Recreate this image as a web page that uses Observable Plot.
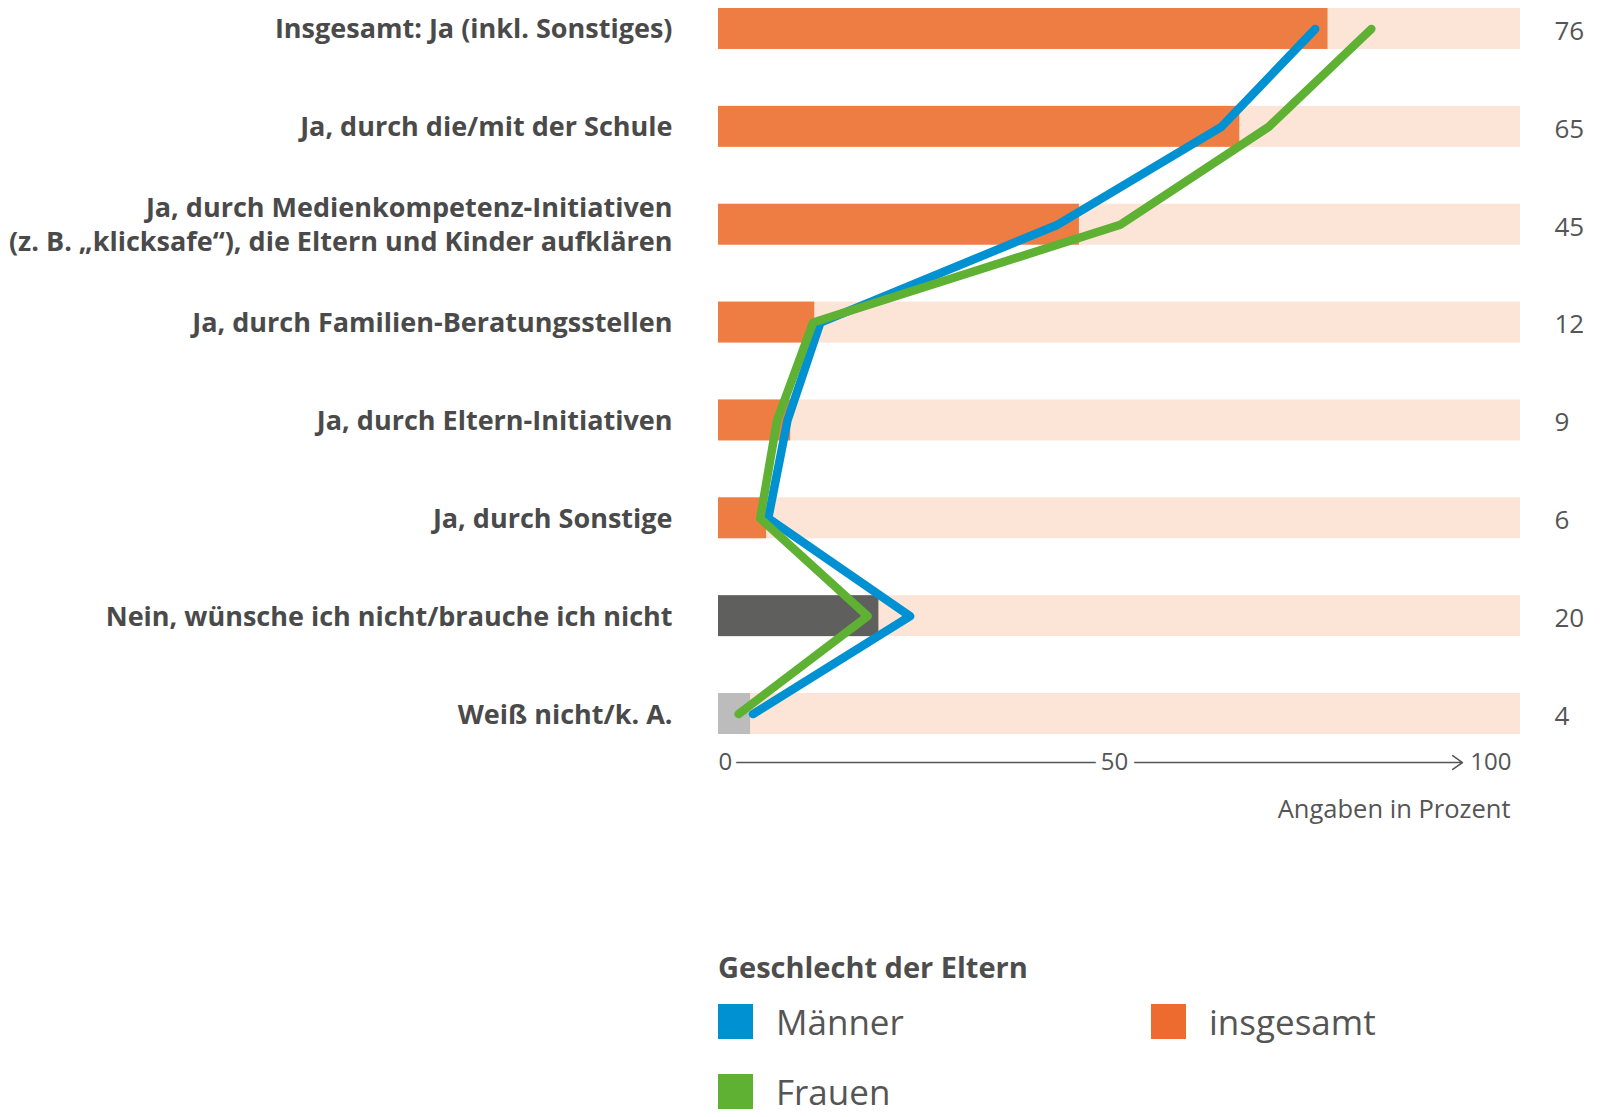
<!DOCTYPE html>
<html lang="de">
<head>
<meta charset="utf-8">
<script src="https://cdn.jsdelivr.net/npm/d3@7"></script>
<script src="https://cdn.jsdelivr.net/npm/@observablehq/plot@0.6"></script>
<style>
  html, body { margin: 0; padding: 0; background: #fff; }
  body { width: 1602px; height: 1117px; overflow: hidden; font-family: "Open Sans", sans-serif; }
  #chart svg { display: block; }
  .legend { margin-left: 718px; margin-top: 120px; color: #555; }
  .legend-title { font-size: 29px; font-weight: 700; color: #4d4d4d; line-height: 34px; }
  .legend-grid { display: grid; grid-template-columns: 433px auto; row-gap: 35px; margin-top: 20px; }
  .legend-item { display: flex; align-items: center; height: 35px; }
  .legend-item .sw { width: 35px; height: 35px; margin-right: 23px; flex: none; }
  .legend-item span { font-size: 35px; line-height: 0.85; color: #555; }
</style>
</head>
<body>
<div id="chart"></div>
<div class="legend" id="legend"></div>
<script>
// ---- Data ----
const categories = [
  "Insgesamt: Ja (inkl. Sonstiges)",
  "Ja, durch die/mit der Schule",
  "Ja, durch Medienkompetenz-Initiativen\n(z. B. „klicksafe“), die Eltern und Kinder aufklären",
  "Ja, durch Familien-Beratungsstellen",
  "Ja, durch Eltern-Initiativen",
  "Ja, durch Sonstige",
  "Nein, wünsche ich nicht/brauche ich nicht",
  "Weiß nicht/k. A."
];
const insgesamt = [76, 65, 45, 12, 9, 6, 20, 4];
const maenner = [74.4, 62.7, 42.3, 12.7, 8.6, 6.2, 23.9, 4.3];
const frauen = [81.4, 68.6, 50.1, 11.8, 7.3, 5.2, 18.6, 2.5];
const answerGroup = ["ja", "ja", "ja", "ja", "ja", "ja", "nein", "weissnicht"];
const seriesNames = ["Männer", "Frauen"];
const axisTicks = [0, 50, 100];
const xDomain = [0, 100];
const axisLabel = "Angaben in Prozent";
const legendTitle = "Geschlecht der Eltern";
const legendItems = ["Männer", "insgesamt", "Frauen"];

// ---- Derived tables ----
const rows = categories.map((c, i) => ({category: c, total: insgesamt[i], group: answerGroup[i]}));
const lineData = [
  ...categories.map((c, i) => ({category: c, value: maenner[i], series: seriesNames[0]})),
  ...categories.map((c, i) => ({category: c, value: frauen[i], series: seriesNames[1]}))
];

const barColors = {ja: "#EE7D43", nein: "#5F5F5D", weissnicht: "#BCBCBC"};
const lineColors = {"Männer": "#0091D2", "Frauen": "#5EB132"};
const legendColors = {"Männer": "#0091D2", "Frauen": "#5EB132", "insgesamt": "#EE6B2F"};
const textColor = "#4a4a4a";

const lastCat = categories[categories.length - 1];
const axisDy = 48.5;

const chart = Plot.plot({
  width: 1602,
  height: 830,
  marginLeft: 718,
  marginRight: 82,
  marginTop: 8,
  marginBottom: 96,
  style: {fontFamily: "Open Sans", background: "#fff", overflow: "visible"},
  x: {domain: xDomain, axis: null},
  y: {domain: categories, axis: null, paddingInner: 0.5816, paddingOuter: 0, align: 0.5, round: false},
  marks: [
    // background bars (100 %)
    Plot.barX(rows, {y: "category", x1: xDomain[0], x2: xDomain[1], fill: "#FCE4D6"}),
    // total bars
    Plot.barX(rows, {y: "category", x: "total", fill: d => barColors[d.group]}),
    // lines (men first, women on top)
    ...seriesNames.map(s => Plot.line(lineData.filter(d => d.series === s), {
      x: "value", y: "category", stroke: lineColors[s], strokeWidth: 8.5,
      strokeLinecap: "round", strokeLinejoin: "round"
    })),
    // category labels
    Plot.text(rows, {
      y: "category", text: "category", frameAnchor: "left", textAnchor: "end", dx: -46, dy: -1.5,
      fontSize: 27, fontWeight: 700, fill: textColor, lineHeight: 1.27
    }),
    // value labels
    Plot.text(rows, {
      y: "category", text: d => String(d.total), frameAnchor: "right", textAnchor: "start", dx: 34, dy: 2.5,
      fontSize: 26, fill: "#555"
    }),
    // axis arrow
    Plot.arrow([lastCat], {
      x1: xDomain[0], x2: xDomain[1], y1: d => d, y2: d => d, dy: axisDy,
      insetEnd: 58, headLength: 12, headAngle: 70, bend: false,
      stroke: "#555", strokeWidth: 1.5
    }),
    // axis tick labels (white halo interrupts the line)
    Plot.text(axisTicks.slice(0, 1), {
      x: d => d, y: () => lastCat, dy: axisDy, text: d => String(d), textAnchor: "start", dx: 0,
      fontSize: 24, fill: "#555", stroke: "#fff", strokeWidth: 10
    }),
    Plot.text(axisTicks.slice(1, 2), {
      x: d => d, y: () => lastCat, dy: axisDy, text: d => String(d), textAnchor: "middle", dx: -5,
      fontSize: 24, fill: "#555", stroke: "#fff", strokeWidth: 14
    }),
    Plot.text(axisTicks.slice(2, 3), {
      x: d => d, y: () => lastCat, dy: axisDy, text: d => String(d), textAnchor: "end", dx: -9,
      fontSize: 24, fill: "#555"
    }),
    // axis caption
    Plot.text([axisLabel], {
      frameAnchor: "bottom-right", dy: 83, dx: -10, text: d => d, textAnchor: "end",
      fontSize: 25.5, fill: "#555"
    })
  ]
});
document.getElementById("chart").appendChild(chart);

// ---- Legend ----
const legend = document.getElementById("legend");
const title = document.createElement("div");
title.className = "legend-title";
title.textContent = legendTitle;
legend.appendChild(title);
const grid = document.createElement("div");
grid.className = "legend-grid";
for (const name of legendItems) {
  const item = document.createElement("div");
  item.className = "legend-item";
  const sw = document.createElement("div");
  sw.className = "sw";
  sw.style.background = legendColors[name];
  const label = document.createElement("span");
  label.textContent = name;
  item.appendChild(sw);
  item.appendChild(label);
  grid.appendChild(item);
}
legend.appendChild(grid);
</script>
</body>
</html>
